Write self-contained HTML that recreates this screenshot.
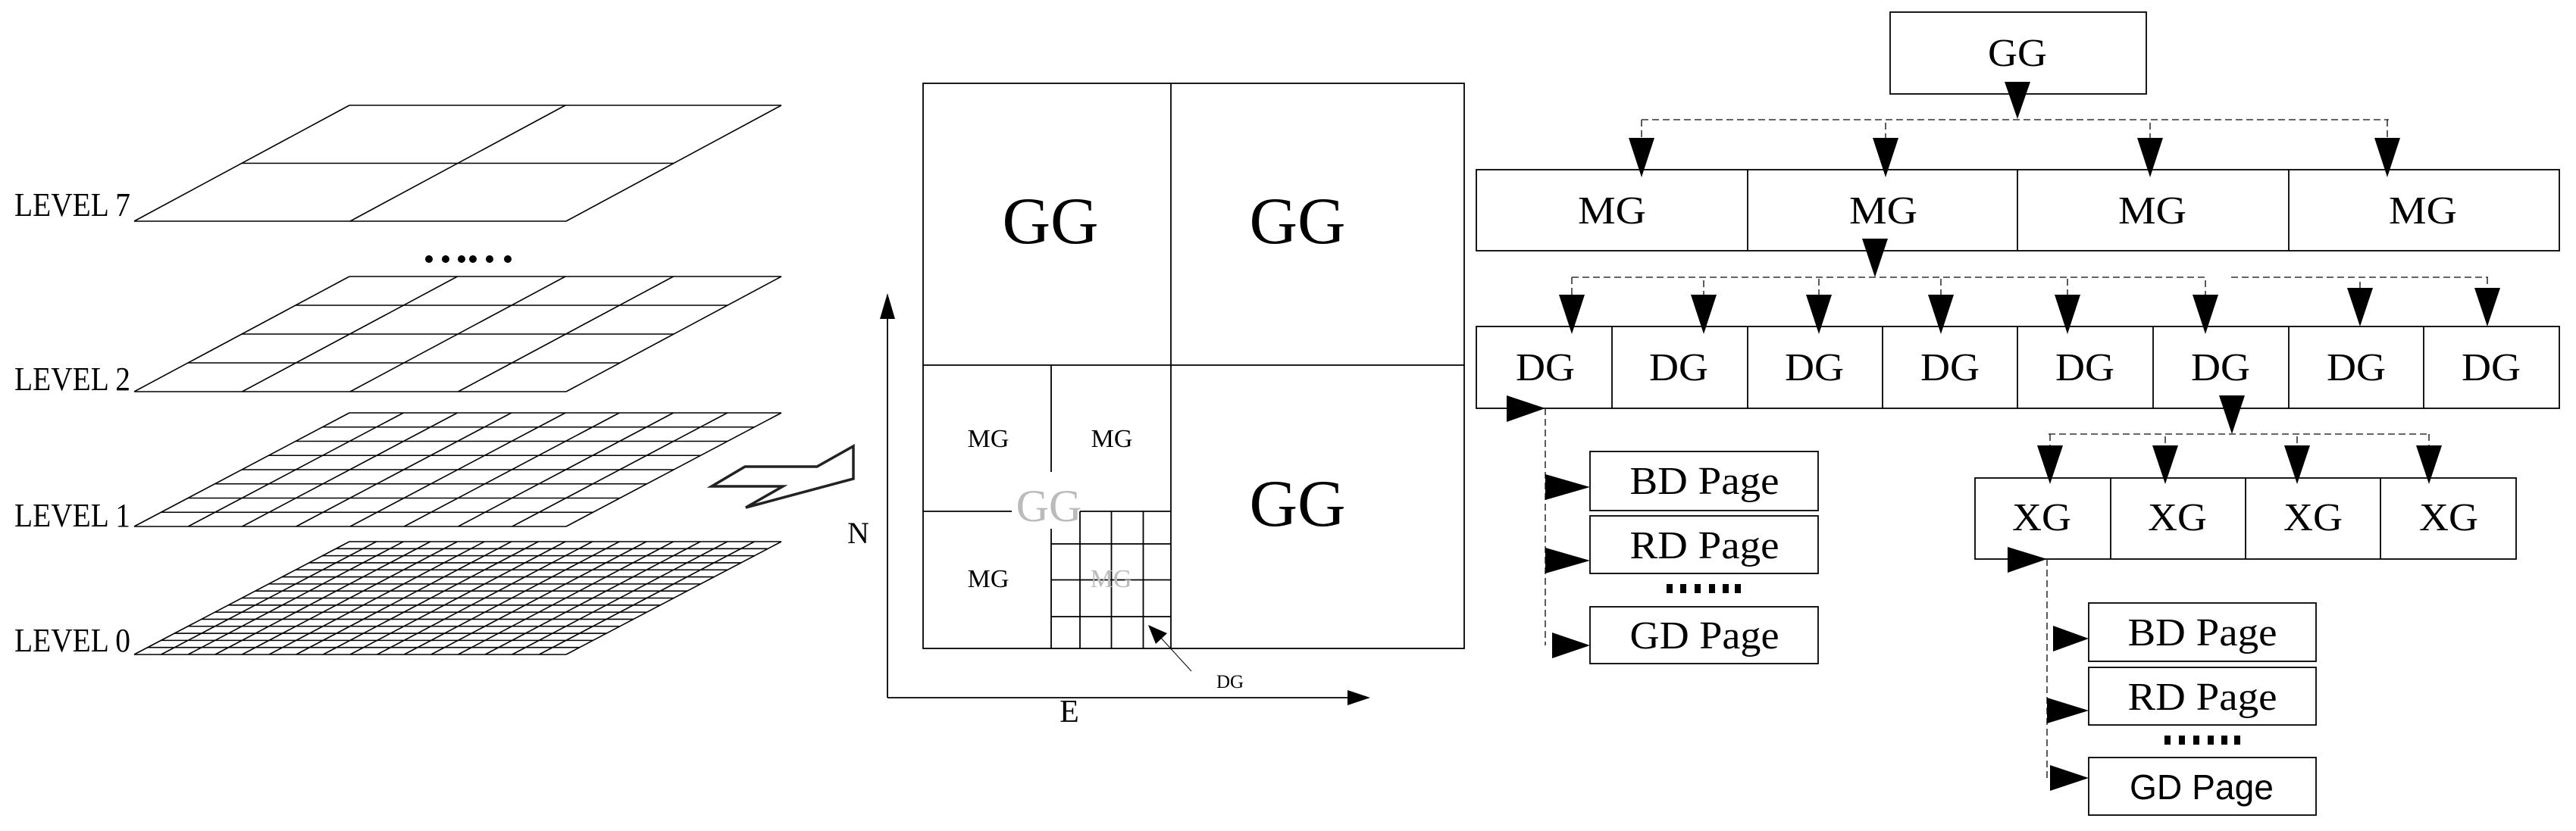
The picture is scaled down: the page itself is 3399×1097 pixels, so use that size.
<!DOCTYPE html>
<html><head><meta charset="utf-8"><style>
html,body{margin:0;padding:0;background:#fff;}
svg{display:block;}
text{font-family:"Liberation Serif",serif;fill:#000;}
</style></head><body>
<svg id="s" width="3399" height="1097" viewBox="0 0 3399 1097" xmlns="http://www.w3.org/2000/svg">
<g id="planes" stroke="#000" stroke-width="1.6" fill="none"></g>
<g font-size="44">
<text x="19" y="285" textLength="153" lengthAdjust="spacingAndGlyphs">LEVEL 7</text>
<text x="19" y="515" textLength="153" lengthAdjust="spacingAndGlyphs">LEVEL 2</text>
<text x="19" y="695" textLength="153" lengthAdjust="spacingAndGlyphs">LEVEL 1</text>
<text x="19" y="860" textLength="153" lengthAdjust="spacingAndGlyphs">LEVEL 0</text>
</g>
<g fill="#000"><circle cx="566" cy="342" r="5"/><circle cx="588" cy="342" r="5"/><circle cx="609" cy="342" r="5"/><circle cx="624" cy="342" r="5"/><circle cx="646" cy="342" r="5"/><circle cx="670" cy="342" r="5"/></g>
<polygon points="939,642 983,616 1078,616 1126,589 1126,632 984,670 1033,642" fill="none" stroke="#222" stroke-width="3.5" stroke-linejoin="miter"/>
<text x="1118" y="717" font-size="40">N</text>

<g stroke="#000" stroke-width="1.8" fill="none">
<rect x="1218" y="110" width="714" height="746"/>
<line x1="1545" y1="110" x2="1545" y2="856"/>
<line x1="1218" y1="482" x2="1932" y2="482"/>
<line x1="1387" y1="482" x2="1387" y2="623"/>
<line x1="1387" y1="698" x2="1387" y2="856"/>
<line x1="1218" y1="675" x2="1335" y2="675"/>
<line x1="1425" y1="675" x2="1545" y2="675"/>
<line x1="1425" y1="675" x2="1425" y2="856"/>
<line x1="1466.5" y1="675" x2="1466.5" y2="856"/>
<line x1="1508.5" y1="675" x2="1508.5" y2="856"/>
<line x1="1387" y1="718" x2="1545" y2="718"/>
<line x1="1387" y1="765.5" x2="1545" y2="765.5"/>
<line x1="1387" y1="814" x2="1545" y2="814"/>
<line x1="1171" y1="921" x2="1171" y2="415"/>
<line x1="1171" y1="921" x2="1782" y2="921"/>
<line x1="1572" y1="886" x2="1530" y2="840" stroke-width="1"/>
</g>
<g fill="#000">
<polygon points="1171,387 1161,421 1181,421"/>
<polygon points="1808,921 1778,911 1778,931"/>
<polygon points="1515,825 1540,836 1525,850"/>
</g>
<g text-anchor="middle">
<text x="1386" y="321" font-size="88">GG</text>
<text x="1712" y="321" font-size="88">GG</text>
<text x="1712" y="694" font-size="88">GG</text>
<text x="1384" y="688" font-size="60" style="fill:#bbb">GG</text>
<text x="1304" y="590" font-size="34">MG</text>
<text x="1467" y="590" font-size="34">MG</text>
<text x="1304" y="775" font-size="34">MG</text>
<text x="1466" y="775" font-size="34" style="fill:#bbb">MG</text>
<text x="1623" y="908" font-size="25">DG</text>
<text x="1411" y="953" font-size="42">E</text>
</g>

<g stroke="#000" stroke-width="1.8" fill="none">
<rect x="2494" y="16" width="338" height="108"/>
<rect x="1948" y="224" width="1429" height="107"/>
<line x1="2306" y1="224" x2="2306" y2="331"/><line x1="2662" y1="224" x2="2662" y2="331"/><line x1="3020" y1="224" x2="3020" y2="331"/>
<rect x="1948" y="431" width="1429" height="108"/>
<line x1="2127" y1="431" x2="2127" y2="539"/><line x1="2306" y1="431" x2="2306" y2="539"/><line x1="2484" y1="431" x2="2484" y2="539"/><line x1="2662" y1="431" x2="2662" y2="539"/><line x1="2841" y1="431" x2="2841" y2="539"/><line x1="3020" y1="431" x2="3020" y2="539"/><line x1="3198" y1="431" x2="3198" y2="539"/>
<rect x="2098" y="596" width="301" height="78"/>
<rect x="2098" y="681" width="301" height="76"/>
<rect x="2098" y="801" width="301" height="75"/>
<rect x="2606" y="631" width="714" height="107"/>
<line x1="2785" y1="631" x2="2785" y2="738"/><line x1="2963" y1="631" x2="2963" y2="738"/><line x1="3141" y1="631" x2="3141" y2="738"/>
<rect x="2756" y="796" width="300" height="77"/>
<rect x="2756" y="881" width="300" height="76"/>
<rect x="2756" y="1000" width="300" height="76"/>
</g>
<g stroke="#333" stroke-width="1.6" fill="none" stroke-dasharray="9,5">
<line x1="2166" y1="158" x2="3152" y2="158"/>
<line x1="2166" y1="158" x2="2166" y2="184"/><line x1="2488" y1="162" x2="2488" y2="184"/><line x1="2837" y1="162" x2="2837" y2="184"/><line x1="3150" y1="158" x2="3150" y2="184"/>
<line x1="2074" y1="366" x2="2910" y2="366"/>
<line x1="2944" y1="366" x2="3283" y2="366"/>
<line x1="2074" y1="366" x2="2074" y2="390"/><line x1="2248" y1="370" x2="2248" y2="390"/><line x1="2400" y1="368" x2="2400" y2="390"/><line x1="2561" y1="368" x2="2561" y2="390"/><line x1="2728" y1="368" x2="2728" y2="390"/><line x1="2910" y1="370" x2="2910" y2="390"/><line x1="3114" y1="372" x2="3114" y2="382"/><line x1="3282" y1="366" x2="3282" y2="382"/>
<line x1="2039" y1="539" x2="2039" y2="852"/>
<line x1="2703" y1="573" x2="3205" y2="573"/>
<line x1="2705" y1="573" x2="2705" y2="590"/><line x1="2857" y1="576" x2="2857" y2="590"/><line x1="3031" y1="576" x2="3031" y2="590"/><line x1="3205" y1="573" x2="3205" y2="590"/>
<line x1="2701" y1="738" x2="2701" y2="1027"/>
</g>
<g fill="#000">
<polygon points="2645,108 2679,108 2662,157"/>
<polygon points="2149,182 2183,182 2166,234"/>
<polygon points="2471,182 2505,182 2488,234"/>
<polygon points="2820,182 2854,182 2837,234"/>
<polygon points="3133,182 3167,182 3150,234"/>
<polygon points="2457,315 2491,315 2474,366"/>
<polygon points="2057,389 2091,389 2074,441"/>
<polygon points="2231,389 2265,389 2248,441"/>
<polygon points="2383,389 2417,389 2400,441"/>
<polygon points="2544,389 2578,389 2561,441"/>
<polygon points="2711,389 2745,389 2728,441"/>
<polygon points="2893,389 2927,389 2910,441"/>
<polygon points="3097,380 3131,380 3114,431"/>
<polygon points="3265,380 3299,380 3282,431"/>
<polygon points="1988,522 1988,557 2039,539"/>
<polygon points="2039,626 2039,660 2098,643"/>
<polygon points="2039,723 2039,757 2098,740"/>
<polygon points="2048,835 2048,869 2098,852"/>
<polygon points="2928,522 2962,522 2945,573"/>
<polygon points="2688,588 2722,588 2705,639"/>
<polygon points="2840,588 2874,588 2857,639"/>
<polygon points="3014,588 3048,588 3031,639"/>
<polygon points="3188,588 3222,588 3205,639"/>
<polygon points="2649,722 2649,756 2701,738"/>
<polygon points="2709,826 2709,860 2756,843"/>
<polygon points="2701,921 2701,955 2756,938"/>
<polygon points="2705,1010 2705,1044 2756,1027"/>
<rect x="2199" y="771" width="8" height="12"/><rect x="2217" y="771" width="8" height="12"/><rect x="2236" y="771" width="8" height="12"/><rect x="2255" y="771" width="8" height="12"/><rect x="2273" y="771" width="8" height="12"/><rect x="2289" y="771" width="8" height="12"/>
<rect x="2856" y="971" width="8" height="12"/><rect x="2875" y="971" width="8" height="12"/><rect x="2894" y="971" width="8" height="12"/><rect x="2913" y="971" width="8" height="12"/><rect x="2931" y="971" width="8" height="12"/><rect x="2948" y="971" width="8" height="12"/>
</g>
<g text-anchor="middle" font-size="52">
<text x="2662" y="87" textLength="78" lengthAdjust="spacingAndGlyphs">GG</text>
<text x="2127" y="295" textLength="90" lengthAdjust="spacingAndGlyphs">MG</text>
<text x="2485" y="295" textLength="90" lengthAdjust="spacingAndGlyphs">MG</text>
<text x="2840" y="295" textLength="90" lengthAdjust="spacingAndGlyphs">MG</text>
<text x="3197" y="295" textLength="90" lengthAdjust="spacingAndGlyphs">MG</text>
<text x="2039" y="502" textLength="78" lengthAdjust="spacingAndGlyphs">DG</text>
<text x="2215" y="502" textLength="78" lengthAdjust="spacingAndGlyphs">DG</text>
<text x="2394" y="502" textLength="78" lengthAdjust="spacingAndGlyphs">DG</text>
<text x="2573" y="502" textLength="78" lengthAdjust="spacingAndGlyphs">DG</text>
<text x="2751" y="502" textLength="78" lengthAdjust="spacingAndGlyphs">DG</text>
<text x="2930" y="502" textLength="78" lengthAdjust="spacingAndGlyphs">DG</text>
<text x="3109" y="502" textLength="78" lengthAdjust="spacingAndGlyphs">DG</text>
<text x="3287" y="502" textLength="78" lengthAdjust="spacingAndGlyphs">DG</text>
<text x="2694" y="700" textLength="78" lengthAdjust="spacingAndGlyphs">XG</text>
<text x="2873" y="700" textLength="78" lengthAdjust="spacingAndGlyphs">XG</text>
<text x="3052" y="700" textLength="78" lengthAdjust="spacingAndGlyphs">XG</text>
<text x="3231" y="700" textLength="78" lengthAdjust="spacingAndGlyphs">XG</text>
<text x="2249" y="652" textLength="197" lengthAdjust="spacingAndGlyphs">BD Page</text>
<text x="2249" y="737" textLength="197" lengthAdjust="spacingAndGlyphs">RD Page</text>
<text x="2249" y="856" textLength="197" lengthAdjust="spacingAndGlyphs">GD Page</text>
<text x="2906" y="852" textLength="197" lengthAdjust="spacingAndGlyphs">BD Page</text>
<text x="2906" y="937" textLength="197" lengthAdjust="spacingAndGlyphs">RD Page</text>
<text x="2905" y="1055" textLength="190" lengthAdjust="spacingAndGlyphs" style="font-family:'Liberation Sans',sans-serif" font-size="46">GD  Page</text>
</g>
</svg>
<script>
(function(){
var g=document.getElementById('planes'),ns='http://www.w3.org/2000/svg';
function L(a,b,c,d){var l=document.createElementNS(ns,'line');l.setAttribute('x1',a);l.setAttribute('y1',b);l.setAttribute('x2',c);l.setAttribute('y2',d);g.appendChild(l);}
var P=[[139,292,2],[365,517,4],[545,695,8],[715,864,16]];
P.forEach(function(p){var T=p[0],B=p[1],n=p[2],bl=177,tl=461,w=570;
for(var i=0;i<=n;i++){var v=i/n,y=B-(B-T)*v,x=bl+(tl-bl)*v;L(x,y,x+w,y);}
for(var j=0;j<=n;j++){var u=j/n*w;L(bl+u,B,tl+u,T);}
});
})();
</script>
</body></html>
